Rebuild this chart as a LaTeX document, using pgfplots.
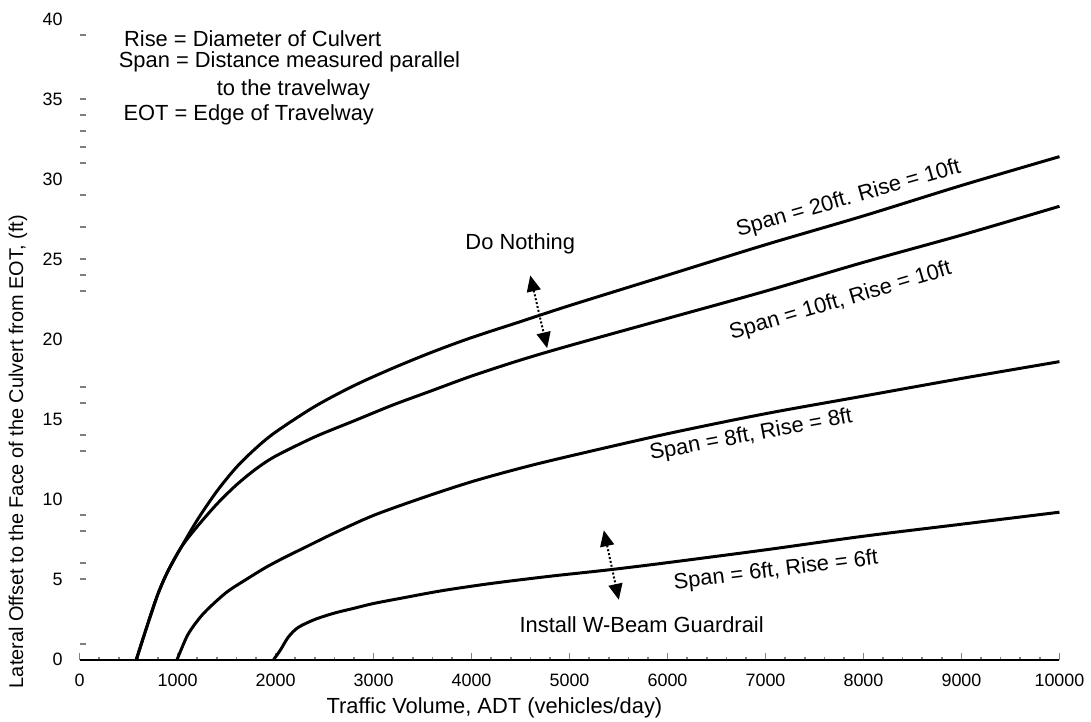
\documentclass[border=0pt]{standalone}
\usepackage{pgfplots}
\pgfplotsset{compat=1.18}
\usepackage{fontspec}
\setmainfont{Liberation Sans}
\usetikzlibrary{arrows.meta}
\begin{document}
\begin{tikzpicture}
\begin{axis}[
  scale only axis, width=492.5pt, height=322pt,
  xmin=0, xmax=10000, ymin=0, ymax=40,
  axis x line*=bottom, axis y line*=left,
  y axis line style={draw=none},
  x axis line style={line width=1pt},
  clip=false,
  xtick={0,1000,...,10000}, minor x tick num=4,
  tick align=inside,
  major tick length=3.3pt, minor tick length=1.5pt,
  x tick style={line width=0.8pt},
  ytick={1,5,6,8,9,13,14,16,17,23,24,25,27,29,31,32,33,34,35,39},
  yticklabels={},
  y tick style={line width=1pt},
  extra y ticks={0,5,10,15,20,25,30,35,40},
  extra y tick style={major tick length=0pt},
  scaled ticks=false,
  /pgf/number format/assume math mode=true,
  /pgf/number format/set thousands separator={},
  ticklabel style={font=\fontsize{9}{10}\selectfont},
  xticklabel style={yshift=-3.5pt},
  yticklabel style={xshift=-5pt},
  every axis plot post/.append style={black, solid, line width=1.5pt, smooth, tension=0.5, mark=none},
]
\path (axis cs:-812.2,41.18) rectangle (axis cs:10264,-3.851);
% Span 20, Rise 10
\addplot coordinates {(579,0)(700,2.3)(800,4.1)(900,5.5)(1036,7.0)(1200,8.7)(1400,10.5)(1600,12.0)(1800,13.2)(2000,14.2)(2400,15.8)(2800,17.1)(3200,18.2)(3600,19.2)(4000,20.1)(4500,21.1)(5000,22.1)(6000,24.0)(7000,25.9)(8000,27.7)(9000,29.6)(10000,31.4)};
% Span 10, Rise 10
\addplot coordinates {(579,0)(700,2.3)(800,4.1)(900,5.5)(1036,7.0)(1200,8.3)(1400,9.7)(1600,10.9)(1800,11.9)(2000,12.7)(2400,13.9)(2800,14.9)(3200,15.9)(3600,16.8)(4000,17.7)(4500,18.7)(5000,19.6)(6000,21.3)(7000,23.0)(8000,24.8)(9000,26.5)(10000,28.3)};
% Span 8, Rise 8
\addplot coordinates {(995,0)(1100,1.5)(1200,2.4)(1300,3.1)(1500,4.2)(1700,5.0)(1900,5.75)(2100,6.4)(2300,7.0)(2600,7.9)(3000,9.0)(3500,10.1)(4000,11.1)(4500,11.95)(5000,12.7)(6000,14.1)(7000,15.35)(8000,16.45)(9000,17.55)(10000,18.6)};
% Span 6, Rise 6
\addplot coordinates {(1980,0)(2050,0.6)(2130,1.4)(2230,2.0)(2400,2.5)(2600,2.9)(2800,3.2)(3000,3.5)(3300,3.85)(3700,4.3)(4200,4.75)(4800,5.2)(5400,5.6)(6000,6.05)(7000,6.85)(8000,7.7)(9000,8.45)(10000,9.2)};

\draw[line width=1pt, densely dotted, {Triangle[length=8pt,width=7pt]}-{Triangle[length=8pt,width=7pt]}] (axis cs:4599,23.98) -- (axis cs:4772,19.44);
\draw[line width=1pt, densely dotted, {Triangle[length=8pt,width=7pt]}-{Triangle[length=8pt,width=7pt]}] (axis cs:5350,8.07) -- (axis cs:5503,3.73);

\tikzset{lbl/.style={font=\fontsize{11}{13}\selectfont, inner sep=0pt}}
\node[lbl] at (axis cs:1767,38.76) {Rise = Diameter of Culvert};
\node[lbl] at (axis cs:2142,37.33) {Span = Distance measured parallel};
\node[lbl] at (axis cs:2183,35.59) {to the travelway};
\node[lbl] at (axis cs:1726,34.04) {EOT = Edge of Travelway};
\node[lbl] at (axis cs:4497,25.96) {Do Nothing};
\node[lbl] at (axis cs:5736,2.17) {Install W-Beam Guardrail};
\node[lbl, rotate=16] at (axis cs:7848,28.76) {Span = 20ft. Rise = 10ft};
\node[lbl, rotate=16.5] at (axis cs:7766,22.36) {Span = 10ft, Rise = 10ft};
\node[lbl, rotate=10.5] at (axis cs:6853,13.98) {Span = 8ft, Rise = 8ft};
\node[lbl, rotate=7] at (axis cs:7107,5.53) {Span = 6ft, Rise = 6ft};
\node[lbl] at (axis cs:4234,-3.04) {Traffic Volume, ADT (vehicles/day)};
\node[font=\fontsize{10}{12}\selectfont, inner sep=0pt, rotate=90] at (axis cs:-629,12.98) {Lateral Offset to the Face of the Culvert from EOT, (ft)};
\end{axis}
\end{tikzpicture}
\end{document}
